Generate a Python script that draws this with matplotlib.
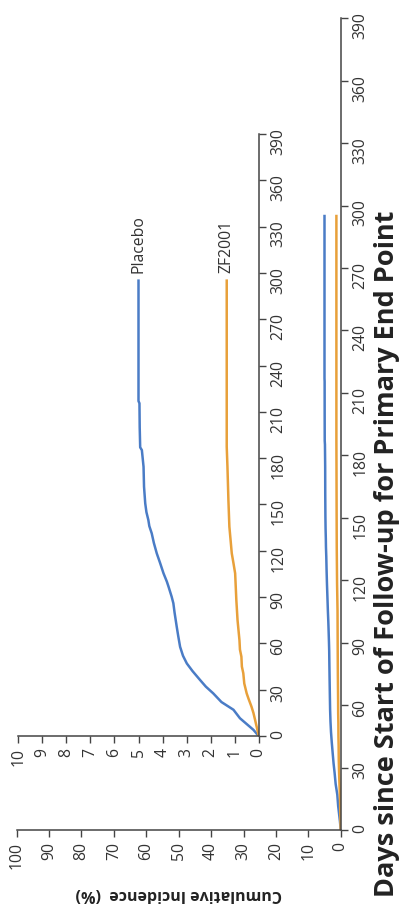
import matplotlib
matplotlib.use("Agg")
import matplotlib.pyplot as plt

plt.rcParams['font.family'] = ['Open Sans', 'DejaVu Sans']

# ---- data (days since start, cumulative incidence %) ----
placebo_days = [0, 4, 11.5, 17, 22, 27.6, 32, 36.3, 42, 47, 52, 57.8, 65, 70.8, 80, 86,
                90.2, 96.7, 100, 105.4, 112, 118.3, 125, 131.3, 136, 139.9, 145, 150.7,
                161.5, 174.4, 185.2, 187, 200, 215.5, 217, 295]
placebo_inc = [0, 0.22, 0.78, 1.05, 1.55, 1.89, 2.2, 2.44, 2.75, 2.99, 3.15, 3.27, 3.35, 3.41,
               3.5, 3.55, 3.62, 3.75, 3.82, 3.96, 4.1, 4.24, 4.36, 4.45, 4.55, 4.59, 4.67, 4.72,
               4.77, 4.79, 4.86, 4.93, 4.95, 4.96, 5.0, 5.0]
zf_days = [0, 5, 10.4, 15, 19, 24, 27.6, 34, 40.6, 45, 51.4, 56, 62, 75, 88, 105.4, 112,
           118.3, 127, 135.6, 152.8, 174.4, 187.4, 295]
zf_inc = [0, 0.07, 0.15, 0.22, 0.3, 0.42, 0.5, 0.6, 0.64, 0.7, 0.72, 0.78, 0.8, 0.88, 0.93,
          0.98, 1.05, 1.12, 1.17, 1.22, 1.26, 1.3, 1.33, 1.33]

day_ticks = list(range(0, 391, 30))
main_inc_ticks = list(range(0, 101, 10))
inset_inc_ticks = list(range(0, 11, 1))
series_names = ["Placebo", "ZF2001"]
colors = ["#4a7cc6", "#e8a03a"]

W, H = 400, 911
fig = plt.figure(figsize=(W / 100, H / 100), dpi=100)

txt_col = "#333333"
spine_col = "#444444"


def style(ax, xlim, xticks, ylim, yticks):
    ax.set_xlim(*xlim)
    ax.set_ylim(*ylim)
    ax.set_xticks(xticks)
    ax.set_yticks(yticks)
    for s in ["left", "top"]:
        ax.spines[s].set_visible(False)
    for s in ["right", "bottom"]:
        ax.spines[s].set_color(spine_col)
        ax.spines[s].set_linewidth(1.1)
    ax.yaxis.tick_right()
    ax.tick_params(axis="both", length=5, width=1.0, color=spine_col,
                   labelcolor=txt_col, labelsize=11.3, pad=3.5)
    for lab in ax.get_xticklabels():
        lab.set_rotation(90)
    for lab in ax.get_yticklabels():
        lab.set_rotation(90)
    ax.patch.set_visible(False)


# main axes (rotated view: incidence horizontal inverted, days vertical)
ax = fig.add_axes([16.7 / W, (H - 830) / H, 324 / W, 811.7 / H])
ax.plot(placebo_inc, placebo_days, color=colors[0], lw=1.8, solid_joinstyle="round")
ax.plot(zf_inc, zf_days, color=colors[1], lw=1.8, solid_joinstyle="round")
style(ax, (100, 0), main_inc_ticks, (0, 390), day_ticks)

# inset
axi = fig.add_axes([18.3 / W, (H - 736) / H, 240.4 / W, 602 / H])
axi.plot(placebo_inc, placebo_days, color=colors[0], lw=1.8, solid_joinstyle="round")
axi.plot(zf_inc, zf_days, color=colors[1], lw=1.8, solid_joinstyle="round")
style(axi, (10, 0), inset_inc_ticks, (0, 390), day_ticks)

axi.text(placebo_inc[-1], 300, series_names[0], rotation=90, ha="center", va="bottom",
         fontsize=11.3, color=txt_col)
axi.text(zf_inc[-1], 300, series_names[1], rotation=90, ha="center", va="bottom",
         fontsize=11.3, color=txt_col)

fig.text(393.5 / W, (H - 897) / H, "Days since Start of Follow-up for Primary End Point",
         rotation=90, rotation_mode="anchor", ha="left", va="baseline",
         fontsize=19.5, fontweight="bold", color="#222222")
fig.text(178.5 / W, (H - 890) / H, "Cumulative Incidence  (%)",
         rotation=180, rotation_mode="anchor", ha="center", va="baseline",
         fontsize=11.5, fontweight="bold", color="#222222")

fig.savefig("out.png", dpi=100)
